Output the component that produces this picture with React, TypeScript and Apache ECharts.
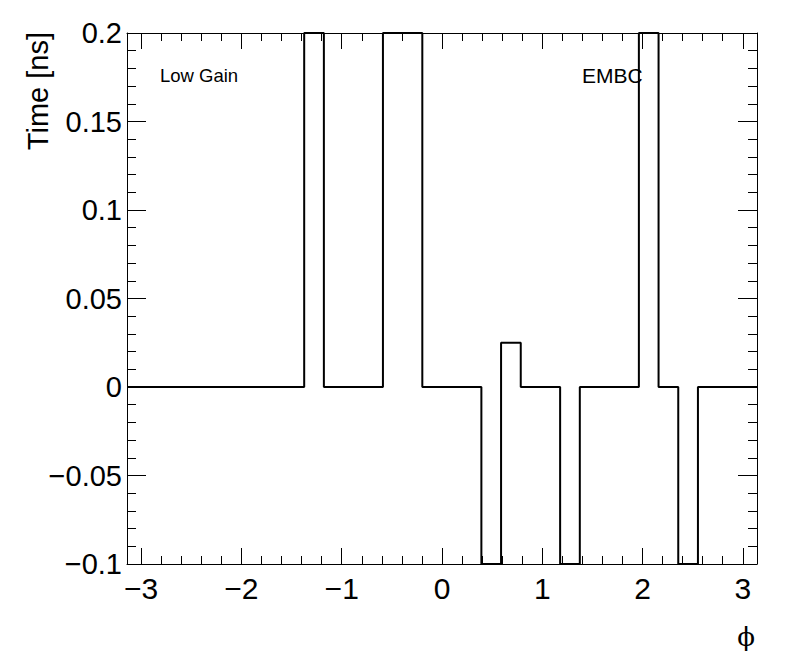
import React, { useEffect, useRef } from 'react';
import * as echarts from 'echarts';

const PHI_MIN = -Math.PI;
const PHI_MAX = Math.PI;
// 32 bins in phi, Time [ns]
const binValues = [
  0, 0, 0, 0, 0, 0, 0, 0, 0, 0.2,
  0, 0, 0, 0.2, 0.2, 0, 0, 0, -0.1, 0.025,
  0, 0, -0.1, 0, 0, 0, 0.2, 0, -0.1, 0,
  0, 0,
];
const xMajorTicks = [-3, -2, -1, 0, 1, 2, 3];
const yMajorTicks = [-0.1, -0.05, 0, 0.05, 0.1, 0.15, 0.2];
const Y_MIN = -0.1;
const Y_MAX = 0.2;
const xTitle = '\u03D5';
const yTitle = 'Time [ns]';
const leftLabel = 'Low Gain';
const rightLabel = 'EMBC';

export default function App() {
  const ref = useRef<HTMLDivElement>(null);
  useEffect(() => {
    document.body.style.margin = '0';
    const chart = echarts.init(ref.current!, null, { renderer: 'svg' });
    const w = (PHI_MAX - PHI_MIN) / binValues.length;
    const data: number[][] = [];
    binValues.forEach((v, i) => {
      const x0 = PHI_MIN + i * w;
      data.push([x0, v], [x0 + w, v]);
    });
    const xMinor: number[] = [];
    for (let k = 0; k <= 30; k++) xMinor.push(Math.round((-3 + k * 0.2) * 1e6) / 1e6);
    const yMinor: number[] = [];
    for (let k = 0; k <= 30; k++) yMinor.push(Math.round((-0.1 + k * 0.01) * 1e6) / 1e6);
    const fmt = (v: number) => String(v).replace('-', '\u2212');
    const black = '#000';
    const font = 'Liberation Sans';

    const xBase = { type: 'value', min: PHI_MIN, max: PHI_MAX, splitLine: { show: false } };
    const yBase = { type: 'value', min: Y_MIN, max: Y_MAX, splitLine: { show: false } };

    const mkX = (pos: string, major: boolean, labels: boolean) => ({
      ...xBase,
      position: pos,
      axisLine: { show: major, onZero: false, lineStyle: { color: black, width: 1 } },
      axisTick: {
        show: true,
        inside: true,
        length: major ? 16 : 8,
        customValues: major ? xMajorTicks : xMinor,
        lineStyle: { color: black, width: 1 },
      },
      axisLabel: labels
        ? { show: true, customValues: xMajorTicks, formatter: fmt, color: black, fontSize: 30, fontFamily: font, margin: 9 }
        : { show: false },
    });
    const mkY = (pos: string, major: boolean, labels: boolean) => ({
      ...yBase,
      position: pos,
      axisLine: { show: major, onZero: false, lineStyle: { color: black, width: 1 } },
      axisTick: {
        show: true,
        inside: true,
        length: major ? 19 : 9,
        customValues: major ? yMajorTicks : yMinor,
        lineStyle: { color: black, width: 1 },
      },
      axisLabel: labels
        ? { show: true, customValues: yMajorTicks, formatter: fmt, color: black, fontSize: 29, fontFamily: font, margin: 5 }
        : { show: false },
    });

    chart.setOption({
      animation: false,
      backgroundColor: '#fff',
      grid: { left: 127, right: 39, top: 33, bottom: 108, outerBoundsMode: 'none', containLabel: false },
      xAxis: [mkX('bottom', true, true), mkX('bottom', false, false), mkX('top', true, false), mkX('top', false, false)],
      yAxis: [mkY('left', true, true), mkY('left', false, false), mkY('right', true, false), mkY('right', false, false)],
      series: [
        {
          type: 'line',
          xAxisIndex: 0,
          yAxisIndex: 0,
          data,
          symbol: 'none',
          showSymbol: false,
          clip: true,
          lineStyle: { color: black, width: 2 },
          z: 3,
        },
      ],
      graphic: [
        { type: 'text', x: 160, y: 75, style: { text: leftLabel, font: `18.5px "${font}"`, fill: black, align: 'left', verticalAlign: 'middle' } },
        { type: 'text', x: 582, y: 75, style: { text: rightLabel, font: `21px "${font}"`, fill: black, align: 'left', verticalAlign: 'middle' } },
        { type: 'text', x: 38, y: 32, rotation: Math.PI / 2, style: { text: yTitle, font: `29px "${font}"`, fill: black, align: 'right', verticalAlign: 'middle' } },
        { type: 'text', x: 746, y: 637, style: { text: xTitle, font: `26px "DejaVu Serif"`, fill: black, align: 'center', verticalAlign: 'middle' } },
      ],
    });
    return () => chart.dispose();
  }, []);
  return <div ref={ref} style={{ position: 'absolute', left: 0, top: 0, width: 796, height: 672 }} />;
}
